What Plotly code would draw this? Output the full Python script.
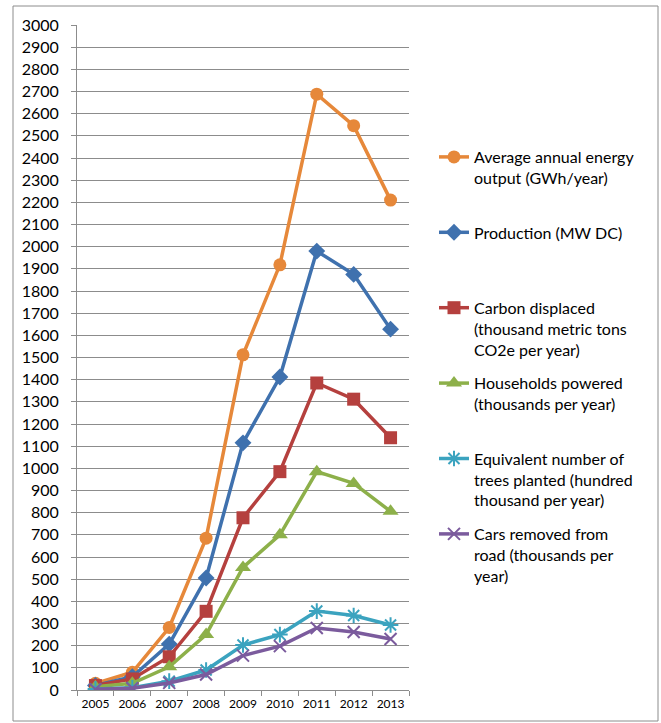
import plotly.graph_objects as go

years = ["2005", "2006", "2007", "2008", "2009", "2010", "2011", "2012", "2013"]

energy_output = [30, 80, 282, 685, 1512, 1918, 2688, 2546, 2210]
production = [20, 60, 207, 505, 1115, 1412, 1980, 1875, 1628]
carbon = [20, 50, 150, 355, 777, 985, 1385, 1312, 1138]
households = [15, 30, 105, 250, 553, 700, 985, 932, 806]
trees = [5, 10, 40, 90, 203, 250, 356, 336, 293]
cars = [3, 8, 32, 70, 155, 198, 280, 262, 230]

names = [
    "Average annual energy<br>output (GWh/year)<br>\u00a0",
    "Production (MW DC)<br>\u00a0<br>\u00a0",
    "Carbon displaced<br>(thousand metric tons<br>CO2e per year)",
    "Households powered<br>(thousands per year)<br>\u00a0",
    "Equivalent number of<br>trees planted (hundred<br>thousand per year)",
    "Cars removed from<br>road (thousands per<br>year)",
]
series = [energy_output, production, carbon, households, trees, cars]
colors = ["#E6883A", "#3F71AE", "#B5403E", "#8DB04A", "#3BA3BF", "#7B5B9D"]
symbols = ["circle", "diamond", "square", "triangle-up", "asterisk-open", "x-thin-open"]
sizes = [13, 13, 13, 14, 13, 12]

fig = go.Figure()
for i, (nm, vals, c, s, sz) in enumerate(zip(names, series, colors, symbols, sizes)):
    open_sym = s.endswith("open")
    fig.add_trace(go.Scatter(
        x=years, y=vals, name=nm, mode="lines+markers",
        legendgroup=f"g{i}",
        line=dict(color=c, width=3.5),
        marker=dict(symbol=s, size=sz, color=c,
                    line=dict(color=c, width=2 if open_sym else 0)),
    ))

font_family = "Lato, 'Open Sans', sans-serif"

# plot area pixel geometry
L, R, T, B = 77, 409, 25, 690
W, H = 661, 723
def px(x):
    return (x - L) / (R - L)
def py(y):
    return (B - y) / (B - T)

fig.update_layout(
    width=W, height=H,
    margin=dict(l=L, r=W - R, t=T, b=H - B),
    paper_bgcolor="white", plot_bgcolor="white",
    font=dict(family=font_family, color="#000000"),
    showlegend=True,
    legend=dict(
        x=px(434), y=py(140), xanchor="left", yanchor="top",
        font=dict(size=16, family=font_family, color="#000000"),
        valign="top", traceorder="grouped", tracegroupgap=10,
        bgcolor="rgba(0,0,0,0)", itemwidth=30,
    ),
    xaxis=dict(
        type="category", range=[-0.5, 8.5],
        showline=True, linecolor="#8C8C8C", linewidth=1,
        ticks="outside", tickson="boundaries", ticklen=5, tickcolor="#8C8C8C",
        showgrid=False, tickfont=dict(size=12, family=font_family, color="#000000"),
        zeroline=False, ticklabelstandoff=3,
    ),
    yaxis=dict(
        range=[0, 3000], dtick=100, tick0=0,
        showline=True, linecolor="#8C8C8C", linewidth=1,
        ticks="outside", ticklen=5, tickcolor="#8C8C8C",
        showgrid=True, gridcolor="#8C8C8C", gridwidth=1,
        zeroline=False, ticklabelstandoff=9,
        tickfont=dict(size=16, family=font_family, color="#000000"),
    ),
    shapes=[dict(
        type="rect", xref="paper", yref="paper",
        x0=px(13), x1=px(658), y0=py(721), y1=py(6),
        line=dict(color="#8C8C8C", width=1), fillcolor="rgba(0,0,0,0)", layer="below",
    )],
)

fig.write_html(
    "out.html",
    config={"displayModeBar": False},
    post_script="document.body.style.margin='0';document.body.style.overflow='hidden';",
)
